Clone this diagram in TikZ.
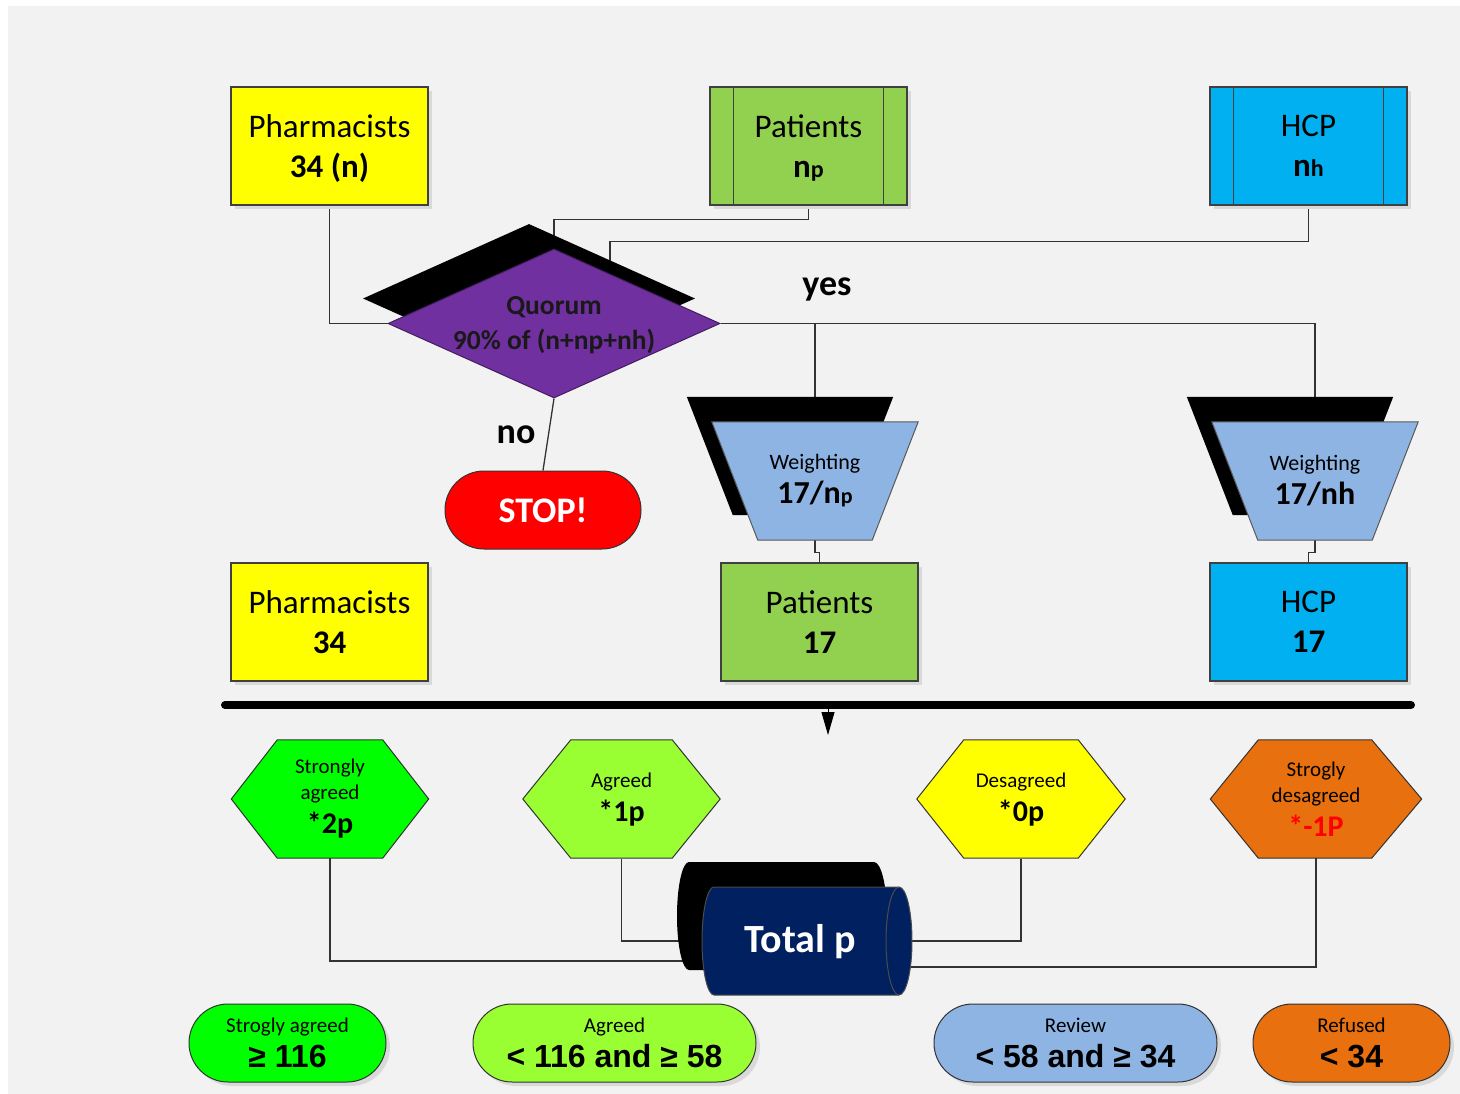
\documentclass[tikz,border=0pt]{standalone}
\usepackage{fontspec}
\setmainfont{Carlito}
\newfontfamily\arialf{Liberation Sans}
\usetikzlibrary{shapes.geometric,calc,arrows.meta,shadows}
\pgfdeclarelayer{back}
\pgfdeclarelayer{lines}
\pgfdeclarelayer{shadow}
\pgfdeclarelayer{shapes}
\pgfsetlayers{back,lines,shadow,shapes,main}
\definecolor{bgc}{HTML}{F2F2F2}
\definecolor{cyel}{HTML}{FFFF00}
\definecolor{cgrn}{HTML}{92D050}
\definecolor{cblu}{HTML}{00B0F0}
\definecolor{cpur}{HTML}{7030A0}
\definecolor{clbl}{HTML}{8EB4E3}
\definecolor{chg}{HTML}{00FF00}
\definecolor{clg}{HTML}{99FF33}
\definecolor{cor}{HTML}{E8700E}
\definecolor{cnav}{HTML}{002060}
\newcommand{\fsz}[2]{\fontsize{#1}{#2}\selectfont}
\begin{document}
\begin{tikzpicture}[x=1pt,y=-1pt,
  shad/.style={drop shadow={shadow xshift=4pt,shadow yshift=-4pt,fill=black!15,opacity=1}},
  rbox/.style={rectangle,draw=black!75,line width=1.2pt,minimum width=197pt,minimum height=118pt,inner sep=0pt,align=center,font=\fsz{33}{40},shad},
  conn/.style={draw=black!80,line width=1.3pt},
  ppline/.style={draw=black!75,line width=1.2pt},
  pill/.style={rectangle,rounded corners=39pt,draw=black!80,line width=1pt,minimum height=78pt,inner sep=0pt,align=center,font=\fsz{21}{35},shad},
  hexn/.style={rectangle,minimum height=118pt,inner sep=0pt,align=center,font=\fsz{21}{26}},
  hexf/.style={draw=black!80,line width=1pt},
  trn/.style={rectangle,minimum width=206pt,minimum height=118pt,inner sep=0pt,align=center,font=\fsz{22}{34}},
  lbl/.style={font=\fsz{36}{40}\bfseries,inner sep=0pt}
]
\useasboundingbox (0,0) rectangle (1460,1094);
\begin{pgfonlayer}{back}
\fill[white] (0,0) rectangle (1460,1094);
\fill[bgc] (8,6) rectangle (1460,1094);
\end{pgfonlayer}

% ---------- top row ----------
\node[rbox,fill=cyel,text depth=0pt] (ph1) at (329.5,146) {Pharmacists\\\textbf{34 (n)}};
\node[rbox,fill=cgrn,text depth=0pt] (pt1) at (808.5,146) {Patients\\\textbf{n{\fsz{24}{24}p}}};
\node[rbox,fill=cblu] (hc1) at (1308.5,146) {HCP\\\textbf{n{\fsz{24}{24}h}}};
\draw[ppline] ([xshift=24pt]pt1.north west) -- ([xshift=24pt]pt1.south west);
\draw[ppline] ([xshift=-24pt]pt1.north east) -- ([xshift=-24pt]pt1.south east);
\draw[ppline] ([xshift=24pt]hc1.north west) -- ([xshift=24pt]hc1.south west);
\draw[ppline] ([xshift=-24pt]hc1.north east) -- ([xshift=-24pt]hc1.south east);

% ---------- quorum ----------
\node[diamond,fill=cpur,draw=cpur!60!black,line width=1pt,minimum width=332pt,minimum height=149pt,inner sep=0pt] (q) at (554,323.5) {};
\node[font=\fsz{27.5}{35}\bfseries,align=center,inner sep=0pt,text=black!90] (qt) at (554,325.5) {Quorum\\90\% of (n+np+nh)};
\begin{pgfonlayer}{shadow}
\node[diamond,fill=black,minimum width=332pt,minimum height=149pt,inner sep=0pt] (qs) at ($(q.center)+(-25,-25)$) {};
\end{pgfonlayer}

\node[lbl] (yes) at (827,289) {yes};
\node[lbl] (no) at (516,435) {no};

\node[rectangle,rounded corners=39pt,fill=red,draw=black!80,line width=1pt,minimum width=196pt,minimum height=78pt,inner sep=0pt,text=white,font=\fsz{36}{40}\bfseries] (stop) at (543,510) {STOP!};

% ---------- weighting ----------
\node[trn] (w1) at (815,481) {Weighting\\{\fsz{32}{34}\bfseries 17/n{\fsz{22}{22}p}}};
\node[trn] (w2) at (1315,481) {Weighting\\{\fsz{32}{34}\bfseries 17/nh}};
\begin{pgfonlayer}{shadow}
\foreach \w in {w1,w2}{
\fill[black] ($(\w.north west)+(-25,-25)$) -- ($(\w.north east)+(-25,-25)$) -- ($(\w.south east)+(-71,-25)$) -- ($(\w.south west)+(21,-25)$) -- cycle;
}
\end{pgfonlayer}
\begin{pgfonlayer}{shapes}
\foreach \w in {w1,w2}{
\path[fill=clbl,draw=black!65,line width=1pt] (\w.north west) -- (\w.north east) -- ($(\w.south east)+(-46,0)$) -- ($(\w.south west)+(46,0)$) -- cycle;
}
\end{pgfonlayer}

% ---------- second row ----------
\node[rbox,fill=cyel] (ph2) at (329.5,622) {Pharmacists\\\textbf{34}};
\node[rbox,fill=cgrn] (pt2) at (819.5,622) {Patients\\\textbf{17}};
\node[rbox,fill=cblu] (hc2) at (1308.5,622) {HCP\\\textbf{17}};

% ---------- bar ----------
\coordinate (bl) at (225,705);
\coordinate (br) at (1411,705);
\coordinate (am) at (828,705);
\coordinate (ae) at (828,735);
\draw[line width=8pt,line cap=round] (bl) -- (br);
\draw[line width=1pt,-{Triangle[length=23pt,width=13pt]}] (am) -- (ae);

% ---------- hexagons ----------
\node[hexn,minimum width=197pt] (hx1) at (330,799) {Strongly\\agreed\\[8pt]{\fsz{30}{34}\bfseries *2p}};
\node[hexn,minimum width=197pt] (hx2) at (621.5,800) {Agreed\\[8pt]{\fsz{30}{34}\bfseries *1p}};
\node[hexn,minimum width=208pt] (hx3) at (1021,800) {Desagreed\\[8pt]{\fsz{30}{34}\bfseries *0p}};
\node[hexn,minimum width=211pt] (hx4) at (1316,799) {Strogly\\desagreed\\[8pt]{\fsz{30}{34}\bfseries\color{red}*-1P}};
\begin{pgfonlayer}{shapes}
\path[hexf,fill=chg] (hx1.west) -- ($(hx1.north west)+(46,0)$) -- ($(hx1.north east)+(-46,0)$) -- (hx1.east) -- ($(hx1.south east)+(-46,0)$) -- ($(hx1.south west)+(46,0)$) -- cycle;
\path[hexf,fill=clg] ([yshift=1pt]hx2.west) -- ($(hx2.north west)+(48,-1)$) -- ($(hx2.north east)+(-48,-1)$) -- ([yshift=1pt]hx2.east) -- ($(hx2.south east)+(-48,-1)$) -- ($(hx2.south west)+(48,-1)$) -- cycle;
\path[hexf,fill=cyel] ([yshift=1pt]hx3.west) -- ($(hx3.north west)+(47,-1)$) -- ($(hx3.north east)+(-47,-1)$) -- ([yshift=1pt]hx3.east) -- ($(hx3.south east)+(-47,-1)$) -- ($(hx3.south west)+(47,-1)$) -- cycle;
\path[hexf,fill=cor] (hx4.west) -- ($(hx4.north west)+(48,0)$) -- ($(hx4.north east)+(-50,0)$) -- (hx4.east) -- ($(hx4.south east)+(-50,0)$) -- ($(hx4.south west)+(48,0)$) -- cycle;
\end{pgfonlayer}

% ---------- total ----------
\node[font=\fsz{40}{42}\bfseries,text=white,inner sep=0pt] (tot) at (800,942) {Total p};
\begin{pgfonlayer}{shadow}
\fill[black,shift={(775,916)}] (99,-54) -- (-86,-54) arc[start angle=270,end angle=90,x radius=12,y radius=54] -- (99,54) arc[start angle=90,end angle=-90,x radius=13,y radius=54] -- cycle;
\end{pgfonlayer}
\begin{pgfonlayer}{shapes}
\path[fill=cnav,draw=black!70,line width=1pt,shift={(800,941)}] (99,-54) -- (-86,-54) arc[start angle=270,end angle=90,x radius=12,y radius=54] -- (99,54) arc[start angle=90,end angle=-90,x radius=13,y radius=54] -- cycle;
\draw[black!70,line width=1pt,shift={(800,941)}] (99,-54) arc[start angle=-90,end angle=-270,x radius=13,y radius=54];
\end{pgfonlayer}

% ---------- result pills ----------
\node[pill,fill=chg,minimum width=197pt] (r1) at (287.5,1043) {Strogly agreed\\{\fsz{32}{32}\arialf\bfseries ≥ 116}};
\node[pill,fill=clg,minimum width=283pt] (r2) at (614.5,1043) {Agreed\\{\fsz{32}{32}\arialf\bfseries < 116 and ≥ 58}};
\node[pill,fill=clbl,minimum width=283pt] (r3) at (1075.5,1043) {Review\\{\fsz{32}{32}\arialf\bfseries < 58 and ≥ 34}};
\node[pill,fill=cor,minimum width=197pt] (r4) at (1351.5,1043) {Refused\\{\fsz{32}{32}\arialf\bfseries < 34}};

% ---------- connectors ----------
\begin{pgfonlayer}{lines}
\draw[conn] (ph1.south) |- (q.west);
\draw[conn] (pt1.south) -- ++(0,14) -| (q.center);
\draw[conn] (hc1.south) -- ++(0,36) -| ([xshift=56pt]q.center);
\draw[conn] (q.east) -| (w1.center);
\draw[conn] (q.east) -| (w2.center);
\draw[conn] (q.south) -- (stop.north);
\draw[conn] (w1.south) -- ++(0,12) -| (pt2.north);
\draw[conn] (w2.south) -- ++(0,12) -| (hc2.north);
\draw[conn] (hx1.south) |- ([yshift=-19pt]tot.center);
\draw[conn] (hx2.south) |- ([yshift=1pt]tot.center);
\draw[conn] (hx3.south) |- ([yshift=1pt]tot.center);
\draw[conn] (hx4.south) |- ([yshift=-25pt]tot.center);
\end{pgfonlayer}
\end{tikzpicture}
\end{document}
